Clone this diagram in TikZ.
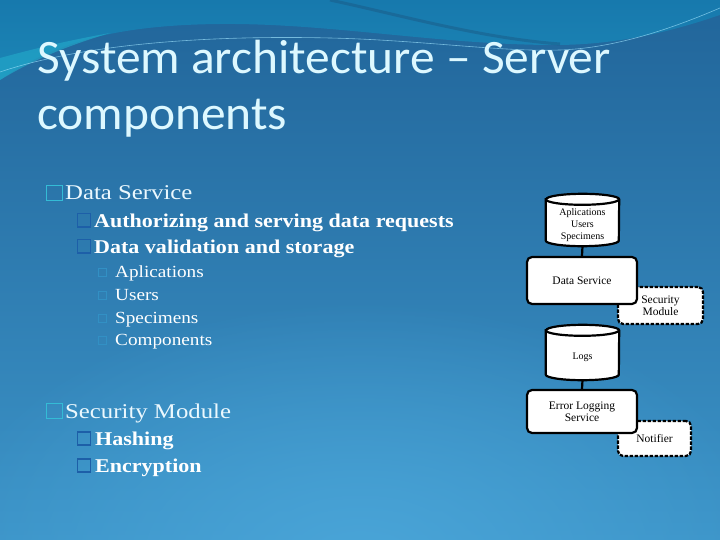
\documentclass[tikz,border=0pt]{standalone}
\usepackage{fontspec}
\setmainfont{Liberation Serif}
\newfontfamily\titlefont{Carlito}[FakeStretch=1.03]
\newfontfamily\lvlone{Liberation Serif}[FakeStretch=1.18]
\newfontfamily\lvltwo{Liberation Serif}[FakeStretch=1.13]
\newfontfamily\diafont{Liberation Serif}
\usetikzlibrary{calc,fadings}
\tikzfading[name=myglow,inner color=transparent!0,outer color=transparent!100]
\definecolor{bgtop}{HTML}{21659A}
\definecolor{bgbot}{HTML}{3C94C8}
\definecolor{glowc}{HTML}{4AA5D8}
\definecolor{swtop}{HTML}{1779AD}
\definecolor{swbot}{HTML}{1C86B6}
\definecolor{swcyan}{HTML}{22A6C8}
\definecolor{titlec}{HTML}{DDF8FF}
\definecolor{bulone}{HTML}{34BCD6}
\definecolor{bultwo}{HTML}{1D5FA8}
\definecolor{bulthree}{HTML}{3290C4}
\newcommand\drawcyl[1]{%
  \path[cylfill] ($(#1.north west)+(0,-5.5)$) -- ($(#1.south west)+(0,5.5)$)
    arc[start angle=180,end angle=360,x radius=36.5pt,y radius=5.5pt]
    -- ($(#1.north east)+(0,-5.5)$)
    arc[start angle=0,end angle=180,x radius=36.5pt,y radius=5.5pt] -- cycle;
  \draw[cylline] ($(#1.north west)+(0,-5.5)$)
    arc[start angle=180,end angle=360,x radius=36.5pt,y radius=5.5pt];}
\begin{document}
\begin{tikzpicture}[x=1pt,y=1pt,
  title/.style={anchor=base west,inner sep=0,text=titlec,font=\titlefont\fontsize{48}{54}\selectfont},
  lone/.style={anchor=base west,inner sep=0,text=white!92!cyan,font=\lvlone\fontsize{21}{25}\selectfont},
  ltwo/.style={anchor=base west,inner sep=0,text=white,font=\lvltwo\bfseries\fontsize{19.5}{23}\selectfont},
  lthree/.style={anchor=base west,inner sep=0,text=white,font=\lvltwo\fontsize{17}{20}\selectfont},
  bone/.style={draw=bulone,line width=1.5pt},
  btwo/.style={draw=bultwo,line width=1.3pt},
  bthree/.style={draw=bulthree,line width=1pt},
  cylfill/.style={fill=white,draw=black,line width=2.2pt},
  cylline/.style={draw=black,line width=2.2pt},
  cylnode/.style={minimum width=73pt,inner sep=0},
  boxnode/.style={draw=black,fill=white,line width=2.2pt,rounded corners=5pt,align=center,
    inner sep=0,font=\diafont\fontsize{11.5}{12.5}\selectfont},
  dashbox/.style={boxnode,dash pattern=on 3.5pt off 1.5pt},
  cyltext/.style={align=center,inner sep=0,font=\diafont\fontsize{10}{12}\selectfont},
  link/.style={draw=black,line width=2.2pt}]
\useasboundingbox (0,0) rectangle (720,-540);
% background
\shade[top color=bgtop,bottom color=bgbot] (0,0) rectangle (720,-540);
\fill[glowc,path fading=myglow] (360,-560) ellipse [x radius=430pt,y radius=260pt];
\shade[top color=swtop,bottom color=swbot] (0,0) -- (0,-80)
  .. controls (50,-45) and (110,-25) .. (220,-24)
  .. controls (330,-23) and (440,-45) .. (555,-45)
  .. controls (630,-45) and (690,-25) .. (720,-15) -- (720,0) -- cycle;
\fill[swcyan,opacity=.7] (0,-80) .. controls (30,-62) and (60,-48) .. (110,-33)
  .. controls (60,-42) and (30,-50) .. (0,-58) -- cycle;
\draw[bgtop!80!black,line width=3pt,opacity=.4] (330,0) .. controls (400,-15) and (480,-38) .. (560,-44);
\draw[cyan!40!white,line width=.6pt,opacity=.7] (0,-72) .. controls (80,-45) and (200,-35) .. (330,-38)
  .. controls (420,-40) and (500,-52) .. (560,-50) .. controls (620,-48) and (680,-25) .. (720,-8);
% title
\node[title] (t1) at (37,-74) {System architecture – Server};
\node[title] (t2) at (37,-130) {components};
% left text
\draw[bone] (46.5,-185.5) rectangle (62.5,-200.5);
\node[lone] (ds1) at (65,-200) {Data Service};
\draw[btwo] (77.5,-213.5) rectangle (90.5,-227);
\node[ltwo] (a1) at (94,-227) {Authorizing and serving data requests};
\draw[btwo] (77.5,-239.5) rectangle (90.5,-253);
\node[ltwo] (a2) at (94,-253) {Data validation and storage};
\draw[bthree] (98,-268) rectangle (106,-276);
\node[lthree] (b1) at (115,-277) {Aplications};
\draw[bthree] (98,-291) rectangle (106,-299);
\node[lthree] (b2) at (115,-300) {Users};
\draw[bthree] (98,-314) rectangle (106,-322);
\node[lthree] (b3) at (115,-323) {Specimens};
\draw[bthree] (98,-336) rectangle (106,-344);
\node[lthree] (b4) at (115,-345) {Components};
\draw[bone] (46.5,-403.5) rectangle (62.5,-418.5);
\node[lone] (sm) at (65,-418) {Security Module};
\draw[btwo] (77.5,-432) rectangle (90.5,-445);
\node[ltwo] (h1) at (95,-445) {Hashing};
\draw[btwo] (77.5,-459) rectangle (90.5,-472);
\node[ltwo] (h2) at (95,-472) {Encryption};
% diagram
\node[cylnode,minimum height=52pt] (db) at (582.5,-220) {};
\drawcyl{db}
\node[cyltext] (dbt) at (582.5,-225) {Aplications\\Users\\Specimens};
\node[dashbox,minimum width=85pt,minimum height=37pt] (sec) at (660.5,-305.5) {Security\\Module};
\node[boxnode,minimum width=110pt,minimum height=47pt] (ds) at (582,-280.5) {Data Service};
\draw[link] (db.south) -- (ds.north);
\node[cylnode,minimum height=55pt] (logs) at (582.5,-352.5) {};
\drawcyl{logs}
\node[cyltext] (logst) at (582.5,-357) {Logs};
\node[dashbox,minimum width=73pt,minimum height=35pt] (notif) at (654.5,-438.5) {Notifier};
\node[boxnode,minimum width=110pt,minimum height=43pt] (els) at (582,-411.5) {Error Logging\\Service};
\draw[link] (logs.south) -- (els.north);
\end{tikzpicture}
\end{document}
